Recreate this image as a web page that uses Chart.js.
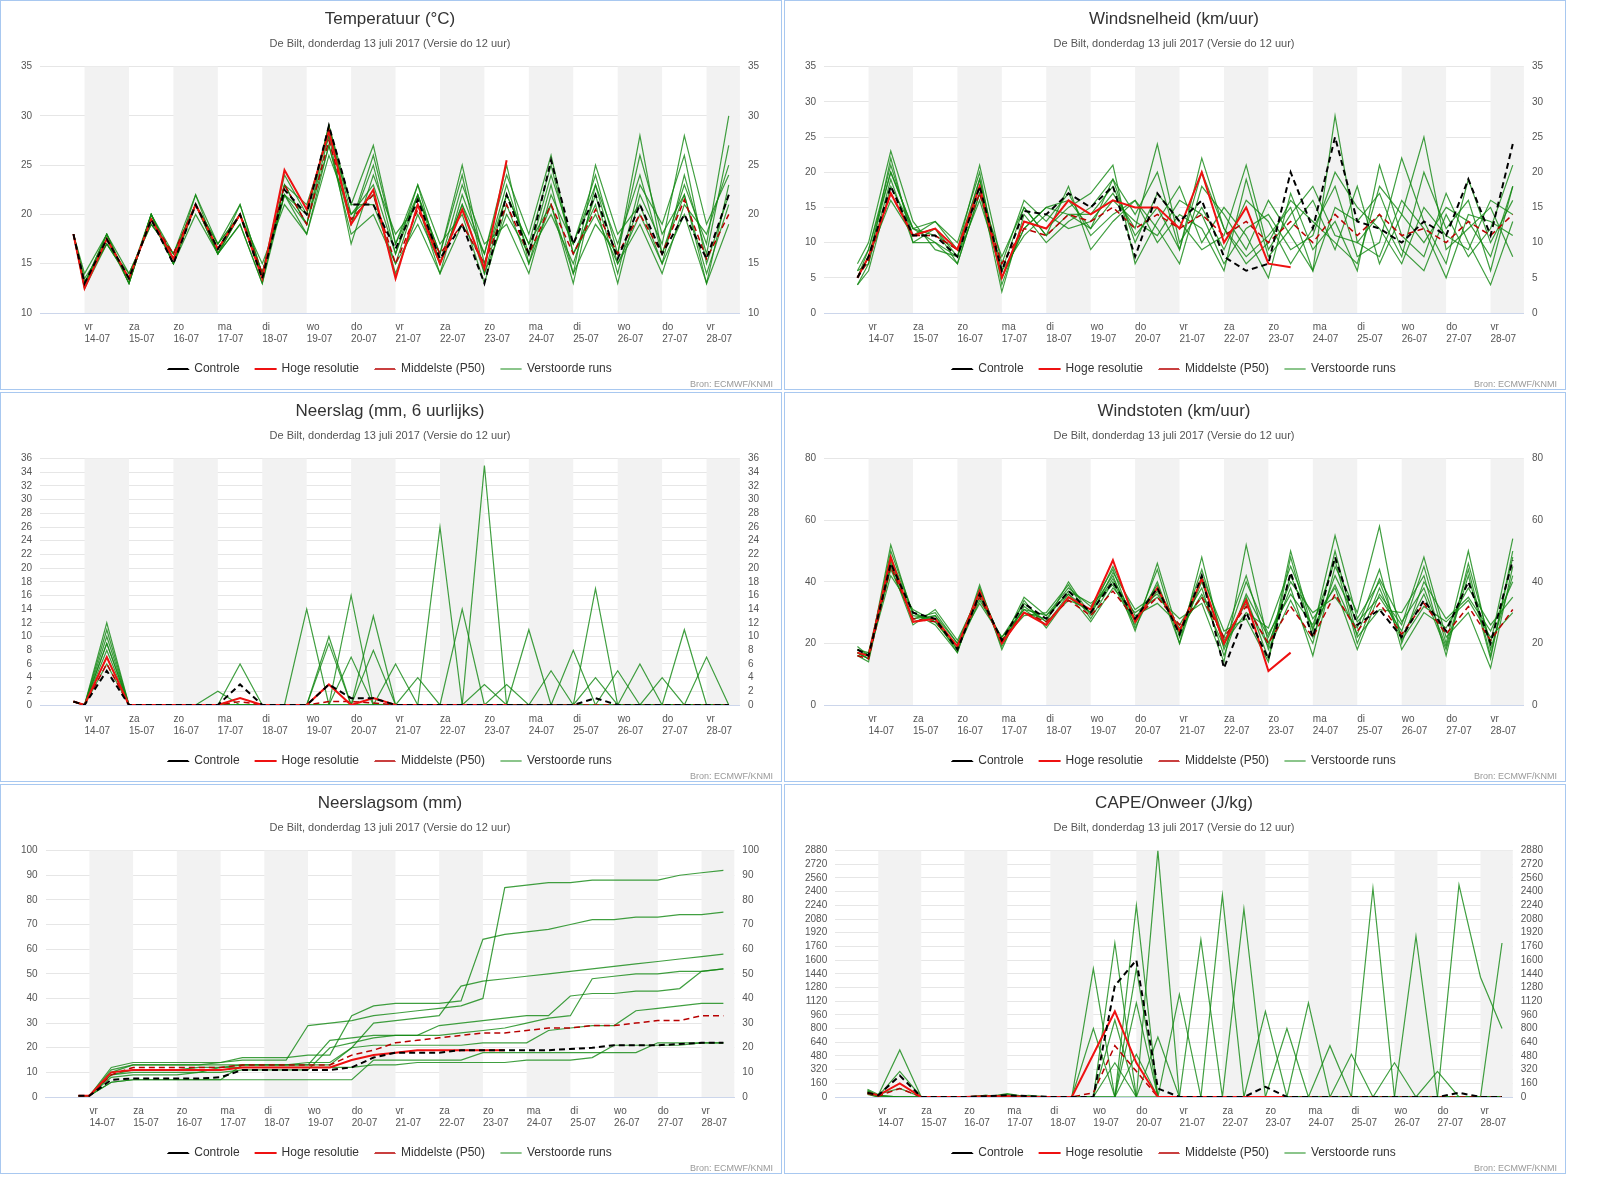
<!DOCTYPE html>
<html>
<head>
<meta charset="utf-8">
<script src="https://cdn.jsdelivr.net/npm/chart.js@4.4.1/dist/chart.umd.min.js"></script>
<style>
  body { margin: 0; background: #fff; font-family: "Liberation Sans", Arial, sans-serif; }
  #grid { display: grid; grid-template-columns: 782px 782px; grid-auto-rows: 390px; gap: 2px; padding: 0; }
  .panel { border: 1px solid #a8c8f0; position: relative; }
  canvas { display: block; }
</style>
</head>
<body>
<div id="grid"></div>
<script>
// time of each value, in hours after 14-07 00:00
const times = [-6, 0, 12, 24, 36, 48, 60, 72, 84, 96, 108, 120, 132, 144, 156, 168, 180, 192, 204, 216, 228, 240, 252, 264, 276, 288, 300, 312, 324, 336, 348]
const dayNames = ['vr', 'za', 'zo', 'ma', 'di', 'wo', 'do']
const N = null

// Temperatuur
const tempCtrl = [18,13,17.5,13.5,19.5,15,21,16.5,20,13.5,22.5,20,29,21,21,16.5,21.5,15.5,19,13,22,16,25.5,17,22,15.5,21,16,20,15.5,22]
const tempHR = [18,12.5,17.5,13.5,19.5,15.5,21,16.5,20,13.5,24.5,20.5,28.5,19,22.5,13.5,21,15,20.5,14.5,25.5,N,N,N,N,N,N,N,N,N,N]
const tempP50 = [18,13,17.5,13.5,19.5,16,21,16.5,20,14,23,19,27.5,19.5,22,15,20.5,16,19,15,21,16,21,16,20.5,16,20,16,21.5,15.5,20]
const tempRuns = [
  [18,13,18,13,20,15,21,16,20,14,22,19,29,20,23,16,22,15,21,14,20,16,24,17,23,15,20,15,24,16,27],
  [18,13.5,17,14,19,16,22,17,21,14,23,21,28,21,27,17,22,16,25,15,22,17,21,14,19,16,26,18,22,14,21],
  [18,12.5,18,13,20,15.5,21,16,19,13,22,18,27,18,20,15,19,14,22,16,24,18,26,16,21,13,22,17,28,19,24],
  [18,13,17,13.5,20,15,20,16,21,14,24,20,29,19,25,16,23,17,20,13,21,15,23,14,25,18,21,15,20,13,19],
  [18,14,18,14,19,16,21,17,20,15,21,18,26,20,22,14,20,15,23,17,19,14,22,17,24,16,28,16,23,17,30],
  [18,13,17.5,13,20,15,22,16,19,13,23,19,28,17,24,18,21,14,19,15,23,16,20,15,22,14,23,19,26,15,22],
  [18,12.5,17,13.5,19.5,15,21,17,20,14,22,20,29,21,21,15,22,16,24,14,22,17,25,16,20,15,19,14,21,18,25],
  [18,13,18,13,20,16,21,16,20,14,23,19,27,19,26,17,23,15,21,16,25,15,21,13,23,17,24,16,22,13,23]
]

// Windsnelheid
const windCtrl = [5,8,18,11,11,8,18,6,14.5,14,17,15,18,8,17,13,16,8,6,7,20,12,25,13,12,10,13,11,19,11,24]
const windHR = [5,8,17,11,12,9,18,5,13,12,16,14,16,15,15,12,20,10,15,7,6.5,N,N,N,N,N,N,N,N,N,N]
const windP50 = [5,7.5,17,11,11,9,17,7,12,11,14,13,15,12,14,12,14,11,13,10,13,10,14,11,14,11,12,10,13,11,14]
const windRuns = [
  [6,9,20,12,10,8,19,5,12,15,14,12,19,14,20,9,22,12,8,11,15,6,28,10,14,8,20,12,16,6,18],
  [4,7,22,10,12,7,17,8,15,11,18,9,13,16,10,14,12,6,19,8,12,16,9,18,7,14,25,9,12,15,8],
  [5,8,16,11,13,10,20,4,13,12,15,17,21,7,13,18,10,15,11,5,17,9,13,6,21,11,8,17,10,4,13],
  [7,10,23,13,9,8,16,6,11,14,12,13,17,12,24,10,15,9,16,13,7,12,18,8,10,22,13,7,19,10,16],
  [4,6,18,12,11,9,21,7,16,13,17,11,14,16,12,7,18,14,9,16,11,6,15,13,17,9,6,14,8,12,21],
  [5,9,21,11,12,8,18,3,14,10,13,15,19,10,17,13,9,11,21,9,14,18,11,10,8,16,12,5,14,13,11],
  [6,7,19,10,10,7,17,5,12,15,16,12,16,13,11,16,14,7,12,14,9,11,20,15,12,7,15,11,9,16,14],
  [5,8,20,12,13,9,19,6,15,11,14,14,18,11,15,9,20,12,7,10,16,13,10,7,18,14,10,15,13,8,18]
]

// Neerslag
const rainCtrl = [0.5,0,5,0,0,0,0,0,3,0,0,0,3,1,1,0,0,0,0,0,0,0,0,0,1,0,0,0,0,0,0]
const rainHR = [0.5,0,7,0,0,0,0,0,1,0,0,0,3,0,1,0,0,0,0,0,0,N,N,N,N,N,N,N,N,N,N]
const rainP50 = [0.5,0,6,0,0,0,0,0,0.5,0,0,0,0.5,0.5,0.3,0,0,0,0,0,0,0,0,0,0,0,0,0,0,0,0]
const rainRuns = [
  [0.5,0,12,0,0,0,0,0,0,0,0,14,0,0,0,0,0,0,0,35,0,0,0,0,4,0,0,0,0,0,0],
  [0.5,0,9,0,0,0,0,0,0,0,0,0,0,16,0,0,0,26,0,0,0,0,0,0,0,0,0,0,11,0,0],
  [0.5,0,10,0,0,0,0,0,0,0,0,0,0,0,13,0,0,0,14,0,3,0,0,0,0,0,0,0,0,0,0],
  [0.5,0,8,0,0,0,0,0,0,0,0,0,9,0,0,0,0,0,0,0,0,11,0,0,17,0,0,0,0,0,0],
  [0.5,0,7,0,0,0,0,0,6,0,0,0,0,7,0,0,0,0,0,0,0,0,5,0,0,0,6,0,0,0,0],
  [0.5,0,11,0,0,0,0,0,0,0,0,0,10,0,0,0,4,0,0,0,0,0,0,8,0,0,0,0,0,7,0],
  [0.5,0,9,0,0,0,0,2,0,0,0,0,0,0,0,6,0,0,0,0,0,0,0,0,0,5,0,0,0,0,0],
  [0.5,0,6,0,0,0,0,0,0,0,0,0,0,0,8,0,0,0,0,3,0,0,0,0,0,0,0,4,0,0,0]
]

// Windstoten
const gustCtrl = [18,16,46,30,28,18,36,21,33,28,37,30,40,28,38,23,42,12,30,15,43,22,48,26,31,22,34,24,40,20,47]
const gustHR = [17,16,48,27,28,19,37,20,30,26,35,31,47,27,38,24,41,20,34,11,17,N,N,N,N,N,N,N,N,N,N]
const gustP50 = [16,15,45,28,27,19,35,21,30,27,34,29,37,28,35,26,35,22,32,20,32,22,36,24,33,23,33,23,32,21,31]
const gustRuns = [
  [17,15,50,30,26,17,38,20,35,29,38,32,44,25,40,20,48,18,35,15,50,24,55,28,40,22,36,18,42,15,50],
  [18,17,44,28,30,20,33,22,31,26,36,27,38,30,35,28,33,14,52,20,38,16,45,30,58,20,40,28,35,24,40],
  [16,14,47,27,29,18,37,19,32,27,34,31,42,24,46,22,40,20,30,25,45,28,38,18,36,26,48,22,30,12,45],
  [19,16,42,31,27,19,35,21,29,30,39,28,40,27,37,24,36,22,42,18,34,20,50,22,31,30,42,16,46,20,54],
  [17,15,52,29,28,17,39,18,34,25,35,30,45,29,33,26,38,16,36,22,40,30,35,25,44,18,30,25,38,26,35],
  [18,16,45,26,31,21,36,20,30,28,37,33,39,26,44,20,42,24,28,14,48,22,42,27,35,24,45,20,50,18,42],
  [16,17,48,30,27,18,34,22,33,27,40,29,43,31,36,25,35,19,40,23,36,26,47,20,38,21,32,27,34,22,30],
  [17,15,46,28,29,20,37,21,31,29,36,30,41,28,39,23,44,21,33,19,42,25,39,23,41,27,38,19,44,16,48]
]

// Neerslagsom
const sumCtrl = [0.5,0.5,7,7.5,7.5,7.5,7.5,8,11,11,11,11,11,12,16,18,18,18,19,19,19,19,19,19.5,20,21,21,21,21.5,22,22]
const sumHR = [0.5,0.5,10,11,11,11,11,11,12,12,12,12,12,15,17,18,19,19,19,19,19,N,N,N,N,N,N,N,N,N,N]
const sumP50 = [0.5,0.5,9,12,12,12,12,12,13,13,13,13,13,17,19,22,23,24,25,26,26,27,28,28,29,29,30,31,31,33,33]
const sumRuns = [
  [0.5,0.5,12,14,14,14,14,14,15,15,15,29,30,31,33,34,35,36,37,40,85,86,87,87,88,88,88,88,90,91,92],
  [0.5,0.5,10,13,13,13,13,14,16,16,16,17,17,33,37,38,38,38,39,64,66,67,68,70,72,72,73,73,74,74,75],
  [0.5,0.5,9,11,11,11,12,12,13,13,13,14,14,20,30,31,32,33,45,47,48,49,50,51,52,53,54,55,56,57,58],
  [0.5,0.5,8,9,9,9,10,10,11,11,11,11,20,22,24,25,25,25,26,27,28,30,32,33,48,49,50,50,51,51,52],
  [0.5,0.5,6,7,7,7,7,7,13,13,13,13,13,20,21,21,21,21,21,22,22,22,27,28,29,29,35,36,37,38,38],
  [0.5,0.5,11,13,13,13,13,13,13,13,13,13,23,24,25,25,25,29,30,31,32,33,33,41,42,42,43,43,44,51,52],
  [0.5,0.5,9,10,10,10,10,12,12,12,12,12,12,12,13,13,14,14,14,14,14,15,15,15,16,21,21,21,21,22,22],
  [0.5,0.5,6,7,7,7,7,7,7,7,7,7,7,7,15,15,15,15,15,18,18,18,18,18,18,18,18,22,22,22,22]
]

// CAPE
const capeCtrl = [50,20,250,0,0,0,10,20,10,0,0,0,1300,1600,100,0,0,0,0,120,0,0,0,0,0,0,0,0,50,0,0]
const capeHR = [50,20,160,0,0,0,10,10,0,0,0,500,1000,400,0,0,0,0,0,0,0,N,N,N,N,N,N,N,N,N,N]
const capeP50 = [40,10,100,0,0,0,0,10,0,0,0,50,600,300,0,0,0,0,0,0,0,0,0,0,0,0,0,0,0,0,0]
const capeRuns = [
  [60,20,550,0,0,0,20,0,0,0,0,0,0,2240,0,0,0,0,0,0,0,0,0,0,0,0,0,0,2480,1400,800],
  [80,10,300,0,0,0,0,30,0,0,0,1500,0,0,2880,0,0,0,0,0,0,0,0,0,2440,0,0,0,0,0,0],
  [40,0,0,0,0,0,0,0,20,0,0,0,1800,0,0,0,0,2360,0,0,0,0,0,0,0,0,1880,0,0,0,0],
  [50,20,0,0,0,0,0,0,0,0,0,0,0,1100,0,0,1840,0,2200,0,0,0,0,0,0,0,0,0,0,0,1800],
  [90,30,100,0,0,0,0,0,0,0,0,0,900,0,0,1200,0,0,0,0,800,0,600,0,0,0,0,0,0,0,0],
  [30,0,0,0,0,0,20,0,0,0,0,800,0,1500,0,0,0,0,0,1000,0,0,0,0,0,400,0,0,0,0,0],
  [60,10,0,0,0,0,0,40,0,0,0,0,0,500,0,0,0,0,0,0,0,1100,0,0,0,0,0,300,0,0,0],
  [70,20,0,0,0,0,0,0,0,0,0,0,400,0,700,0,0,0,0,0,0,0,0,500,0,0,0,0,0,0,0]
]

const panels = [
  { title: 'Temperatuur (°C)', min: 10, max: 35, step: 5, ctrl: tempCtrl, hr: tempHR, p50: tempP50, runs: tempRuns },
  { title: 'Windsnelheid (km/uur)', min: 0, max: 35, step: 5, ctrl: windCtrl, hr: windHR, p50: windP50, runs: windRuns },
  { title: 'Neerslag (mm, 6 uurlijks)', min: 0, max: 36, step: 2, ctrl: rainCtrl, hr: rainHR, p50: rainP50, runs: rainRuns },
  { title: 'Windstoten (km/uur)', min: 0, max: 80, step: 20, ctrl: gustCtrl, hr: gustHR, p50: gustP50, runs: gustRuns },
  { title: 'Neerslagsom (mm)', min: 0, max: 100, step: 10, ctrl: sumCtrl, hr: sumHR, p50: sumP50, runs: sumRuns },
  { title: 'CAPE/Onweer (J/kg)', min: 0, max: 2880, step: 160, ctrl: capeCtrl, hr: capeHR, p50: capeP50, runs: capeRuns }
]

const font = '"Liberation Sans", Arial, sans-serif'
const toPoints = arr => arr.map((v, i) => ({ x: times[i], y: v }))

const bandsPlugin = {
  id: 'bands',
  beforeDatasetsDraw(chart) {
    const { ctx, chartArea, scales } = chart
    ctx.save()
    ctx.fillStyle = '#f2f2f2'
    for (let d = 0; d < 15; d += 2) {
      const x1 = scales.x.getPixelForValue(d * 24)
      const x2 = Math.min(scales.x.getPixelForValue((d + 1) * 24), chartArea.right)
      ctx.fillRect(x1, chartArea.top, x2 - x1, chartArea.bottom - chartArea.top)
    }
    ctx.restore()
  },
  afterDraw(chart) {
    const ctx = chart.ctx
    ctx.save()
    ctx.font = '9px ' + font
    ctx.fillStyle = '#999'
    ctx.textAlign = 'right'
    ctx.fillText('Bron: ECMWF/KNMI', chart.width - 8, chart.height - 4)
    ctx.restore()
  }
}

const grid = document.getElementById('grid')
panels.forEach(p => {
  const div = document.createElement('div')
  div.className = 'panel'
  const canvas = document.createElement('canvas')
  canvas.width = 780
  canvas.height = 388
  div.appendChild(canvas)
  grid.appendChild(div)

  const datasets = [
    { label: 'Controle', data: toPoints(p.ctrl), borderColor: '#000', borderWidth: 2, borderDash: [6, 4], order: 0 },
    { label: 'Hoge resolutie', data: toPoints(p.hr), borderColor: '#ee1111', borderWidth: 2, order: 0 },
    { label: 'Middelste (P50)', data: toPoints(p.p50), borderColor: '#b80000', borderWidth: 1.5, borderDash: [6, 4], order: 0 }
  ]
  p.runs.forEach((r, i) => {
    datasets.push({ label: i === 0 ? 'Verstoorde runs' : '', data: toPoints(r), borderColor: 'rgba(16,135,16,0.8)', borderWidth: 1.2, order: 1 })
  })
  datasets.forEach(d => { d.pointRadius = 0; d.tension = 0; d.fill = false })

  const yTicks = { stepSize: p.step, autoSkip: false, color: '#555', font: { size: 10, family: font }, padding: 8, callback: v => String(v) }

  new Chart(canvas, {
    type: 'line',
    data: { datasets: datasets },
    plugins: [bandsPlugin],
    options: {
      responsive: false,
      animation: false,
      layout: { padding: { left: 12, right: 14, top: 0, bottom: 4 } },
      plugins: {
        title: { display: true, text: p.title, color: '#333', font: { size: 17, family: font, weight: 'normal' }, padding: { top: 8, bottom: 8 } },
        subtitle: { display: true, text: 'De Bilt, donderdag 13 juli 2017 (Versie do 12 uur)', color: '#555', font: { size: 11, family: font }, padding: { bottom: 16 } },
        legend: {
          position: 'bottom',
          labels: {
            filter: item => item.text !== '',
            boxWidth: 20, boxHeight: 0.01,
            generateLabels: chart => Chart.defaults.plugins.legend.labels.generateLabels(chart).map(item => {
              item.fillStyle = 'transparent'
              return item
            }),
            color: '#333', font: { size: 12, family: font }, padding: 16
          }
        },
        tooltip: { enabled: false }
      },
      scales: {
        x: {
          type: 'linear', min: -24, max: 354,
          afterBuildTicks: axis => { axis.ticks = []; for (let d = 0; d <= 14; d++) axis.ticks.push({ value: d * 24 }) },
          ticks: {
            align: 'start', maxRotation: 0, autoSkip: false, color: '#555', font: { size: 10, family: font }, padding: 2,
            callback: v => {
              const d = Math.round(v / 24)
              return [dayNames[d % 7], (14 + d) + '-07']
            }
          },
          grid: { display: false, drawTicks: true, tickLength: 6, tickColor: '#ccd6eb' },
          border: { color: '#ccd6eb' }
        },
        y: {
          min: p.min, max: p.max, ticks: yTicks,
          grid: { color: '#e6e6e6', drawTicks: false },
          border: { display: false }
        },
        y2: {
          position: 'right', min: p.min, max: p.max, ticks: yTicks,
          grid: { display: false, drawTicks: false },
          border: { display: false }
        }
      }
    }
  })
})
</script>
</body>
</html>
